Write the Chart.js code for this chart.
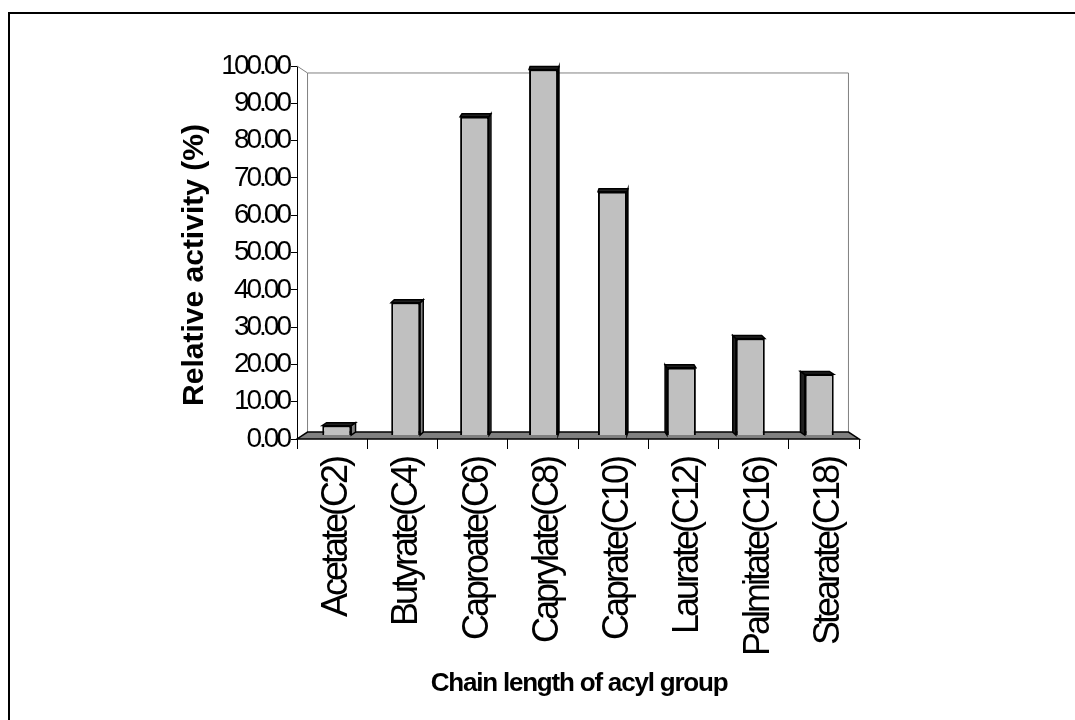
<!DOCTYPE html>
<html>
<head>
<meta charset="utf-8">
<script src="https://cdn.jsdelivr.net/npm/chart.js@4.4.1/dist/chart.umd.min.js"></script>
<style>
  body { margin: 0; background: #fff; }
</style>
</head>
<body>
<canvas id="activityChart" width="1075" height="720"></canvas>
<script>
const categories = ["Acetate(C2)", "Butyrate(C4)", "Caproate(C6)", "Caprylate(C8)",
  "Caprate(C10)", "Laurate(C12)", "Palmitate(C16)", "Stearate(C18)"];
const relativeActivity = [2.7, 36.3, 87.1, 100, 66.6, 18.5, 26.5, 16.7];
const yTickValues = [0, 10, 20, 30, 40, 50, 60, 70, 80, 90, 100];
const yTitle = "Relative activity (%)";
const xTitle = "Chain length of acyl group";

const FONT = '"Liberation Sans", Arial, sans-serif';
// fake Excel 3D look: back wall is a shrunk copy of the front plane,
// bars sit half way between the two
const backScale = 0.9625;
const barScale = (1 + backScale) / 2;

function shrink(area, s) {
  const cx = (area.left + area.right) / 2;
  const cy = (area.top + area.bottom) / 2;
  return {
    left: cx + (area.left - cx) * s,
    right: cx + (area.right - cx) * s,
    top: cy + (area.top - cy) * s,
    bottom: cy + (area.bottom - cy) * s,
    cx, cy
  };
}

const excel3d = {
  id: "excel3d",
  beforeDraw(chart) {
    const ctx = chart.ctx;
    // excel squeezed its text, tick labels get tight spacing
    ctx.letterSpacing = "-3px";
    ctx.save();
    ctx.strokeStyle = "#000";
    ctx.lineWidth = 2;
    ctx.beginPath();
    ctx.moveTo(9, chart.height + 5);
    ctx.lineTo(9, 13);
    ctx.lineTo(chart.width + 5, 13);
    ctx.stroke();
    ctx.restore();
  },
  beforeDatasetsDraw(chart) {
    const ctx = chart.ctx;
    const a = chart.chartArea;
    const back = shrink(a, backScale);

    ctx.save();
    // back wall
    ctx.strokeStyle = "#808080";
    ctx.lineWidth = 1;
    ctx.beginPath();
    ctx.moveTo(a.left, a.top);
    ctx.lineTo(back.left, back.top);
    ctx.lineTo(back.right, back.top);
    ctx.lineTo(back.right, back.bottom);
    ctx.moveTo(back.left, back.top);
    ctx.lineTo(back.left, back.bottom);
    ctx.stroke();
    // floor
    ctx.fillStyle = "#808080";
    ctx.strokeStyle = "#000";
    ctx.lineWidth = 1.5;
    ctx.beginPath();
    ctx.moveTo(a.left, a.bottom);
    ctx.lineTo(a.right, a.bottom);
    ctx.lineTo(back.right, back.bottom);
    ctx.lineTo(back.left, back.bottom);
    ctx.closePath();
    ctx.fill();
    ctx.stroke();
    ctx.restore();

    // bars drawn on the middle plane
    ctx.save();
    ctx.translate(back.cx, back.cy);
    ctx.scale(barScale, barScale);
    ctx.translate(-back.cx, -back.cy);

    const dy = -3;
    ctx.lineWidth = 1.5;
    ctx.strokeStyle = "#000";
    chart.getDatasetMeta(0).data.forEach((bar) => {
      const l = bar.x - bar.width / 2;
      const r = bar.x + bar.width / 2;
      let dx = (back.cx - bar.x) * 0.018;
      if (Math.abs(dx) < 1) dx = 1;
      const sx = dx >= 0 ? r : l;
      // side face
      ctx.fillStyle = dx >= 0 ? "#808080" : "#202020";
      ctx.beginPath();
      ctx.moveTo(sx, bar.y);
      ctx.lineTo(sx + dx, bar.y + dy);
      ctx.lineTo(sx + dx, bar.base + dy);
      ctx.lineTo(sx, bar.base);
      ctx.closePath();
      ctx.fill();
      ctx.stroke();
      // top face
      ctx.fillStyle = "#202020";
      ctx.beginPath();
      ctx.moveTo(l, bar.y);
      ctx.lineTo(l + dx, bar.y + dy);
      ctx.lineTo(r + dx, bar.y + dy);
      ctx.lineTo(r, bar.y);
      ctx.closePath();
      ctx.fill();
      ctx.stroke();
    });
  },
  afterDatasetsDraw(chart) {
    chart.ctx.restore();
  },
  afterDraw(chart) {
    const ctx = chart.ctx;
    ctx.save();
    ctx.letterSpacing = "0px";
    ctx.fillStyle = "#000";
    ctx.textAlign = "center";
    ctx.textBaseline = "alphabetic";
    ctx.font = "bold 30px " + FONT;
    ctx.translate(203, 265);
    ctx.rotate(-Math.PI / 2);
    ctx.fillText(yTitle, 0, 0);
    ctx.restore();

    ctx.save();
    ctx.letterSpacing = "-1.2px";
    ctx.fillStyle = "#000";
    ctx.textAlign = "center";
    ctx.textBaseline = "alphabetic";
    ctx.font = "bold 26px " + FONT;
    ctx.fillText(xTitle, 579, 691);
    ctx.restore();
  }
};

const chartCtx = document.getElementById("activityChart").getContext("2d");

new Chart(chartCtx, {
  type: "bar",
  data: {
    labels: categories,
    datasets: [
      {
        data: relativeActivity,
        backgroundColor: "#c0c0c0",
        borderColor: "#000",
        borderWidth: 2,
        barPercentage: 0.42,
        categoryPercentage: 1,
        clip: false
      }
    ]
  },
  options: {
    responsive: false,
    animation: false,
    events: [],
    layout: { padding: { top: 66, right: 216, bottom: 0, left: 0 } },
    plugins: {
      legend: { display: false },
      tooltip: { enabled: false }
    },
    scales: {
      x: {
        offset: true,
        grid: {
          offset: true,
          drawOnChartArea: false,
          tickLength: 10,
          color: "#000",
          lineWidth: 1
        },
        border: { display: false },
        ticks: {
          color: "#000",
          font: { family: FONT, size: 36 },
          minRotation: 90,
          maxRotation: 90,
          padding: 9,
          labelOffset: 5,
          autoSkip: false
        },
        afterFit(scale) {
          scale.height = 281;
        }
      },
      y: {
        min: yTickValues[0],
        max: yTickValues[yTickValues.length - 1],
        grid: {
          drawOnChartArea: false,
          tickLength: 6,
          color: "#000",
          lineWidth: 1
        },
        border: { display: true, color: "#000", width: 1 },
        ticks: {
          color: "#000",
          font: { family: FONT, size: 28 },
          padding: 2,
          callback: (v) => v.toFixed(2)
        },
        afterBuildTicks(scale) {
          scale.ticks = yTickValues.map((v) => ({ value: v }));
        },
        afterFit(scale) {
          scale.width = 297;
        }
      }
    }
  },
  plugins: [excel3d]
});
</script>
</body>
</html>
